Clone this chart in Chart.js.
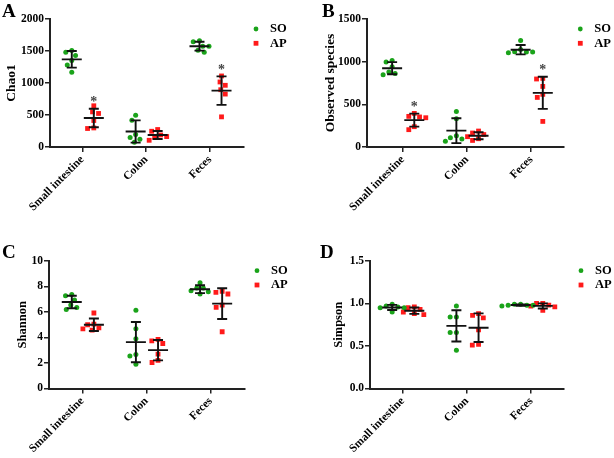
<!DOCTYPE html>
<html><head><meta charset="utf-8">
<script src="https://cdn.jsdelivr.net/npm/chart.js@4.4.1/dist/chart.umd.min.js"></script>
<style>
html,body{margin:0;padding:0;background:#fff;}
body{width:614px;height:458px;position:relative;overflow:hidden;}
.p{position:absolute;width:307px;height:229px;}
</style></head><body>
<div class="p" style="left:0;top:0"><canvas id="cA" width="307" height="229"></canvas></div>
<div class="p" style="left:307px;top:0"><canvas id="cB" width="307" height="229"></canvas></div>
<div class="p" style="left:0;top:229px"><canvas id="cC" width="307" height="229"></canvas></div>
<div class="p" style="left:307px;top:229px"><canvas id="cD" width="307" height="229"></canvas></div>
<script>
// ---------- data ----------
const categories = ['Small intestine', 'Colon', 'Feces'];
const seriesNames = ['SO', 'AP'];

const chao1SO = [[1507, 1482, 1429, 1350, 1283, 1168], [498, 419, 195, 148, 121, 74], [1659, 1644, 1576, 1576, 1513, 1482]];
const chao1AP = [[644, 549, 524, 414, 298, 289], [273, 246, 188, 163, 152, 105], [1110, 1016, 964, 895, 827, 471]];
const chao1Sig = ['*', '', '*'];
const chao1Ticks = [0, 500, 1000, 1500, 2000];

const obsSO = [[1015, 996, 941, 879, 862, 847], [417, 330, 132, 109, 94, 66], [1249, 1144, 1117, 1113, 1113, 1105]];
const obsAP = [[394, 359, 352, 343, 238, 203], [187, 164, 146, 121, 97, 77], [804, 797, 710, 617, 581, 300]];
const obsSig = ['*', '', '*'];
const obsTicks = [0, 500, 1000, 1500];

const shannonSO = [[7.38, 7.28, 6.94, 6.54, 6.36, 6.20], [6.13, 4.68, 3.90, 2.67, 2.54, 1.91], [8.30, 7.88, 7.88, 7.67, 7.59, 7.41]];
const shannonAP = [[5.92, 5.05, 5.00, 4.76, 4.68, 4.58], [3.85, 3.74, 3.53, 2.69, 2.20, 2.04], [7.62, 7.54, 7.41, 6.54, 6.36, 4.45]];
const shannonSig = ['', '', ''];
const shannonTicks = [0, 2, 4, 6, 8, 10];

const simpsonSO = [[0.99, 0.97, 0.96, 0.95, 0.95, 0.90], [0.97, 0.84, 0.84, 0.66, 0.66, 0.45], [0.99, 0.99, 0.98, 0.98, 0.98, 0.97]];
const simpsonAP = [[0.96, 0.95, 0.93, 0.90, 0.88, 0.87], [0.88, 0.86, 0.83, 0.69, 0.52, 0.51], [1.00, 1.00, 0.98, 0.97, 0.96, 0.92]];
const simpsonSig = ['', '', ''];
const simpsonTicks = [0, 0.5, 1.0, 1.5];

// ---------- styles ----------
const GREEN = '#1aa31a', RED = '#ff1a1a', INK = '#111';
const FONT = '"Liberation Serif", "Times New Roman", serif';
const groupOffset = [-0.165, 0.18];

function stats(a) {
  const m = a.reduce((s, v) => s + v, 0) / a.length;
  const sd = Math.sqrt(a.reduce((s, v) => s + (v - m) * (v - m), 0) / (a.length - 1));
  return { m, sd };
}

const swarm = {
  id: 'swarm',
  afterDatasetsUpdate(chart) {
    chart.data.datasets.forEach((ds, di) => {
      const meta = chart.getDatasetMeta(di);
      const byCat = {};
      meta.data.forEach((el, i) => { const c = ds.data[i].c; (byCat[c] = byCat[c] || []).push(el); });
      Object.values(byCat).forEach(els => {
        const sorted = els.slice().sort((a, b) => a.y - b.y);
        const placed = [];
        const D = 6.2;
        sorted.forEach(el => {
          let off = 0;
          for (let k = 0; k < 400; k++) {
            const cand = k === 0 ? 0 : (k % 2 ? -1 : 1) * Math.ceil(k / 2) * 0.25;
            if (placed.every(q => (cand - q.off) ** 2 + (el.y - q.y) ** 2 >= D * D)) { off = cand; break; }
          }
          placed.push({ off, y: el.y });
          el.x += off;
        });
      });
    });
  }
};

const overlay = {
  id: 'overlay',
  afterDatasetsDraw(chart, args, o) {
    const ctx = chart.ctx, xs = chart.scales.x, ys = chart.scales.y, ca = chart.chartArea;
    ctx.save();
    o.series.forEach((ser, si) => {
      ser.forEach((vals, c) => {
        const { m, sd } = stats(vals);
        const x = xs.getPixelForValue(c + groupOffset[si]);
        const ym = ys.getPixelForValue(m), yt = ys.getPixelForValue(m + sd), yb = ys.getPixelForValue(Math.max(m - sd, ys.min));
        ctx.strokeStyle = INK; ctx.lineWidth = 1.9; ctx.lineCap = 'butt';
        ctx.beginPath();
        ctx.moveTo(x - 10, ym); ctx.lineTo(x + 10, ym);
        ctx.moveTo(x, yt); ctx.lineTo(x, yb);
        ctx.moveTo(x - 5, yt); ctx.lineTo(x + 5, yt);
        ctx.moveTo(x - 5, yb); ctx.lineTo(x + 5, yb);
        ctx.stroke();
        if (si === 1 && o.sig[c]) {
          ctx.fillStyle = '#444';
          ctx.font = 'bold 14px ' + FONT;
          ctx.textAlign = 'center'; ctx.textBaseline = 'alphabetic';
          ctx.fillText(o.sig[c], x, yt - 2.5);
        }
      });
    });
    ctx.fillStyle = '#000';
    ctx.font = 'bold ' + o.titleSize + 'px ' + FONT;
    ctx.textAlign = 'center'; ctx.textBaseline = 'middle';
    ctx.translate(o.titleX, (ca.top + ca.bottom) / 2);
    ctx.rotate(-Math.PI / 2);
    ctx.fillText(o.title, 0, 0);
    ctx.restore();
    ctx.save();
    ctx.fillStyle = '#000';
    ctx.font = 'bold 19px ' + FONT;
    ctx.textAlign = 'left'; ctx.textBaseline = 'alphabetic';
    ctx.fillText(o.letter, o.letterX, o.letterY);
    const lx = o.legendX, ly = o.legendY;
    ctx.fillStyle = GREEN;
    ctx.beginPath(); ctx.arc(lx, ly, 2.4, 0, Math.PI * 2); ctx.fill();
    ctx.fillStyle = RED;
    ctx.fillRect(lx - 2.4, ly + 14.3 - 2.4, 4.8, 4.8);
    ctx.fillStyle = '#000';
    ctx.font = 'bold 12.5px ' + FONT;
    ctx.textBaseline = 'middle';
    ctx.fillText(seriesNames[0], lx + 14, ly);
    ctx.fillText(seriesNames[1], lx + 14, ly + 14.3);
    ctx.restore();
  }
};

function makePanel(id, cfg) {
  const datasets = [cfg.so, cfg.ap].map((ser, si) => ({
    label: seriesNames[si],
    data: ser.flatMap((vals, c) => vals.map(v => ({ x: c + groupOffset[si], y: v, c }))),
    pointStyle: si === 0 ? 'circle' : 'rect',
    pointRadius: si === 0 ? 2.5 : 3.4,
    pointBackgroundColor: si === 0 ? GREEN : RED,
    pointBorderWidth: 0,
    showLine: false
  }));
  const tickFont = { family: FONT, size: 11.5, weight: 'bold' };
  new Chart(document.getElementById(id), {
    type: 'scatter',
    data: { datasets },
    plugins: [swarm, overlay],
    options: {
      responsive: false, animation: false, events: [],
      layout: { padding: cfg.pad },
      plugins: {
        legend: { display: false }, tooltip: { enabled: false },
        overlay: { series: [cfg.so, cfg.ap], sig: cfg.sig, title: cfg.title, titleX: cfg.titleX, titleSize: cfg.titleSize,
          letter: cfg.letter, letterX: cfg.letterX, letterY: cfg.letterY, legendX: cfg.legendX, legendY: cfg.legendY }
      },
      scales: {
        x: {
          type: 'linear', min: cfg.xmin, max: cfg.xmax,
          afterBuildTicks: a => { a.ticks = categories.map((_, i) => ({ value: i })); },
          afterFit: a => { a.height = cfg.xh; },
          ticks: { autoSkip: false, minRotation: 45, maxRotation: 45, color: '#000', font: tickFont, padding: 1,
            callback: v => categories[v] },
          grid: { display: true, drawOnChartArea: false, drawTicks: true, tickLength: 5, color: '#222', lineWidth: 1.5 },
          border: { display: true, color: '#222', width: 2 }
        },
        y: {
          min: cfg.ticks[0], max: cfg.ticks[cfg.ticks.length - 1],
          afterBuildTicks: a => { a.ticks = cfg.ticks.map(v => ({ value: v })); },
          afterFit: a => { a.width = cfg.yw; },
          ticks: { color: '#000', font: tickFont, padding: 1, callback: cfg.fmt || (v => String(v)) },
          grid: { display: true, drawOnChartArea: false, drawTicks: true, tickLength: 5, color: '#222', lineWidth: 1.5 },
          border: { display: true, color: '#222', width: 2 }
        }
      }
    }
  });
}

makePanel('cA', { so: chao1SO, ap: chao1AP, sig: chao1Sig, ticks: chao1Ticks, title: 'Chao1', titleX: 12, titleSize: 13.5,
  pad: { left: 0, right: 63, top: 19, bottom: 0 }, yw: 50, xh: 82, xmin: -0.506, xmax: 2.532,
  letter: 'A', letterX: 2, letterY: 17, legendX: 256, legendY: 29 });
makePanel('cB', { so: obsSO, ap: obsAP, sig: obsSig, ticks: obsTicks, title: 'Observed species', titleX: 24, titleSize: 13.5,
  pad: { left: 0, right: 50, top: 19, bottom: 0 }, yw: 60, xh: 82, xmin: -0.556, xmax: 2.51,
  letter: 'B', letterX: 15, letterY: 17, legendX: 273.3, legendY: 29 });
makePanel('cC', { so: shannonSO, ap: shannonAP, sig: shannonSig, ticks: shannonTicks, title: 'Shannon', titleX: 23, titleSize: 12.5,
  pad: { left: 0, right: 62, top: 32, bottom: 0 }, yw: 49, xh: 69.5, xmin: -0.52, xmax: 2.536,
  letter: 'C', letterX: 2, letterY: 29, legendX: 257, legendY: 41.7 });
makePanel('cD', { so: simpsonSO, ap: simpsonAP, sig: simpsonSig, ticks: simpsonTicks, title: 'Simpson', titleX: 32, titleSize: 12.5,
  pad: { left: 0, right: 50, top: 32, bottom: 0 }, yw: 63, xh: 69.5, xmin: -0.51, xmax: 2.51,
  fmt: v => v.toFixed(1),
  letter: 'D', letterX: 13, letterY: 29, legendX: 274, legendY: 41.7 });
</script>
</body></html>
